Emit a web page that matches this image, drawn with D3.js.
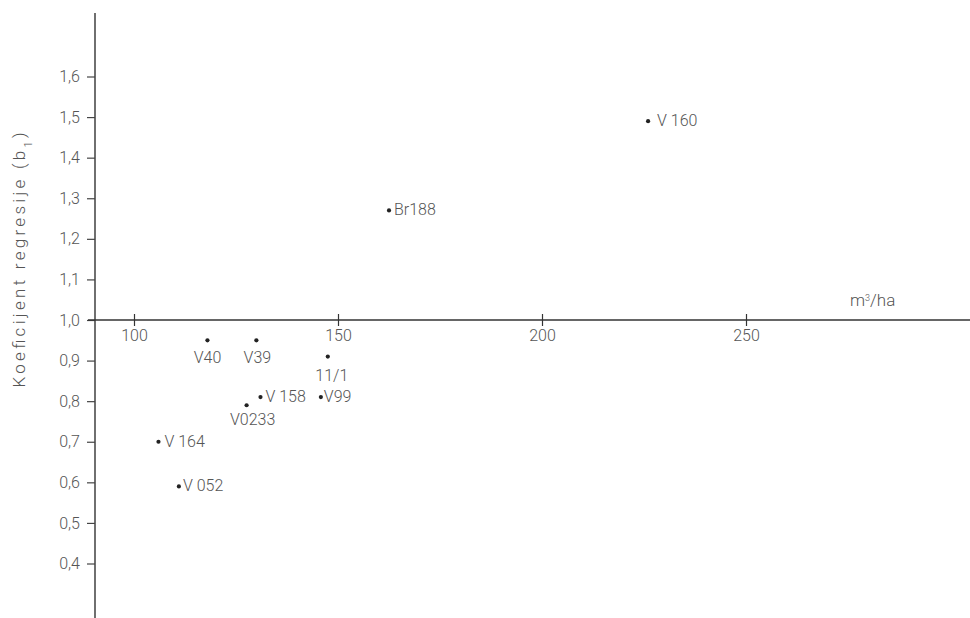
<!DOCTYPE html>
<html>
<head>
<meta charset="utf-8">
<script src="https://cdn.jsdelivr.net/npm/d3@7/dist/d3.min.js"></script>
<style>
  html, body { margin: 0; padding: 0; background: #fff; }
  svg { display: block; }
  text { font-family: Roboto, "Open Sans", "DejaVu Sans", sans-serif; font-weight: 300; fill: #555; }
</style>
</head>
<body>
<svg id="chart" width="970" height="618"></svg>
<script>
// Clone names, stand volume (m³/ha) and regression coefficient b1
const clones = ["V 160", "Br188", "V40", "V39", "11/1", "V 158", "V99", "V0233", "V 164", "V 052"];
const volume = [226, 162.5, 118, 130, 147.5, 131, 145.8, 127.6, 106, 111];
const coef   = [1.49, 1.27, 0.95, 0.95, 0.91, 0.81, 0.81, 0.79, 0.70, 0.59];

// Axis ticks
const xTicks = [100, 150, 200, 250];
const yTicks = [0.4, 0.5, 0.6, 0.7, 0.8, 0.9, 1.0, 1.1, 1.2, 1.3, 1.4, 1.5, 1.6];

// Label placement next to each dot: offset and anchor
const labelPlace = [
  { dx: 9, dy: 5, anchor: "start" },
  { dx: 5, dy: 5, anchor: "start" },
  { dx: 0, dy: 23, anchor: "middle" },
  { dx: 1, dy: 23, anchor: "middle" },
  { dx: 4, dy: 24, anchor: "middle" },
  { dx: 5, dy: 5, anchor: "start" },
  { dx: 3, dy: 5, anchor: "start" },
  { dx: 6, dy: 20, anchor: "middle" },
  { dx: 6, dy: 5, anchor: "start" },
  { dx: 4, dy: 5, anchor: "start" }
];

const svg = d3.select("#chart");
const x = d3.scaleLinear().domain([100, 250]).range([134, 746]);
const y = d3.scaleLinear().domain([1.0, 1.6]).range([320, 76.5]);
const axisX = 95;            // vertical axis position
const originY = y(1.0);      // horizontal axis crosses at b1 = 1,0
const comma = d => d3.format(".1f")(d).replace(".", ",");

// Vertical axis
const gy = svg.append("g").attr("transform", `translate(${axisX},0)`);
gy.append("line").attr("x1", 0).attr("x2", 0).attr("y1", 13).attr("y2", 618)
  .attr("stroke", "#333").attr("stroke-width", 1.4);
const yAxis = d3.axisLeft(y).tickValues(yTicks).tickSize(8).tickPadding(7).tickFormat(comma);
const gya = gy.append("g").call(yAxis);
gya.select(".domain").remove();
gya.selectAll(".tick line").attr("stroke", "#444").attr("stroke-width", 1.2);
gya.selectAll(".tick text").style("font-size", "16px").attr("fill", "#555")
  .style("font-family", "Roboto, sans-serif");

// Horizontal axis through b1 = 1,0
const gx = svg.append("g").attr("transform", `translate(0,${originY})`);
gx.append("line").attr("x1", 88).attr("x2", 970).attr("y1", 0).attr("y2", 0)
  .attr("stroke", "#333").attr("stroke-width", 1.4);
const xAxis = d3.axisBottom(x).tickValues(xTicks).tickSize(6).tickPadding(4).tickFormat(d3.format("d"));
const gxa = gx.append("g").call(xAxis);
gxa.select(".domain").remove();
gxa.selectAll(".tick line").attr("y1", -6).attr("y2", 6).attr("stroke", "#333").attr("stroke-width", 1.2);
gxa.selectAll(".tick text").style("font-size", "16px").attr("fill", "#555")
  .style("font-family", "Roboto, sans-serif");

// Unit label for the horizontal axis
const unit = svg.append("text").attr("x", 850).attr("y", 306).style("font-size", "17px");
unit.append("tspan").text("m");
unit.append("tspan").attr("baseline-shift", "super").style("font-size", "9px").text("3");
unit.append("tspan").text("/ha");

// Vertical axis title
const title = svg.append("text")
  .attr("transform", "translate(25,260) rotate(-90)")
  .attr("text-anchor", "middle")
  .attr("textLength", 255)
  .attr("lengthAdjust", "spacing")
  .style("font-size", "17px");
title.append("tspan").text("Koeficijent  regresije  (b");
title.append("tspan").attr("baseline-shift", "sub").style("font-size", "11px").text("1");
title.append("tspan").text(")");

// Points and their labels
const pts = clones.map((name, i) => ({ name, v: volume[i], b: coef[i], p: labelPlace[i] }));
svg.append("g").selectAll("circle").data(pts).join("circle")
  .attr("cx", d => x(d.v)).attr("cy", d => y(d.b)).attr("r", 2.1)
  .attr("fill", "#222");
svg.append("g").selectAll("text").data(pts).join("text")
  .attr("x", d => x(d.v) + d.p.dx).attr("y", d => y(d.b) + d.p.dy)
  .attr("text-anchor", d => d.p.anchor)
  .style("font-size", "16px")
  .text(d => d.name);
</script>
</body>
</html>
